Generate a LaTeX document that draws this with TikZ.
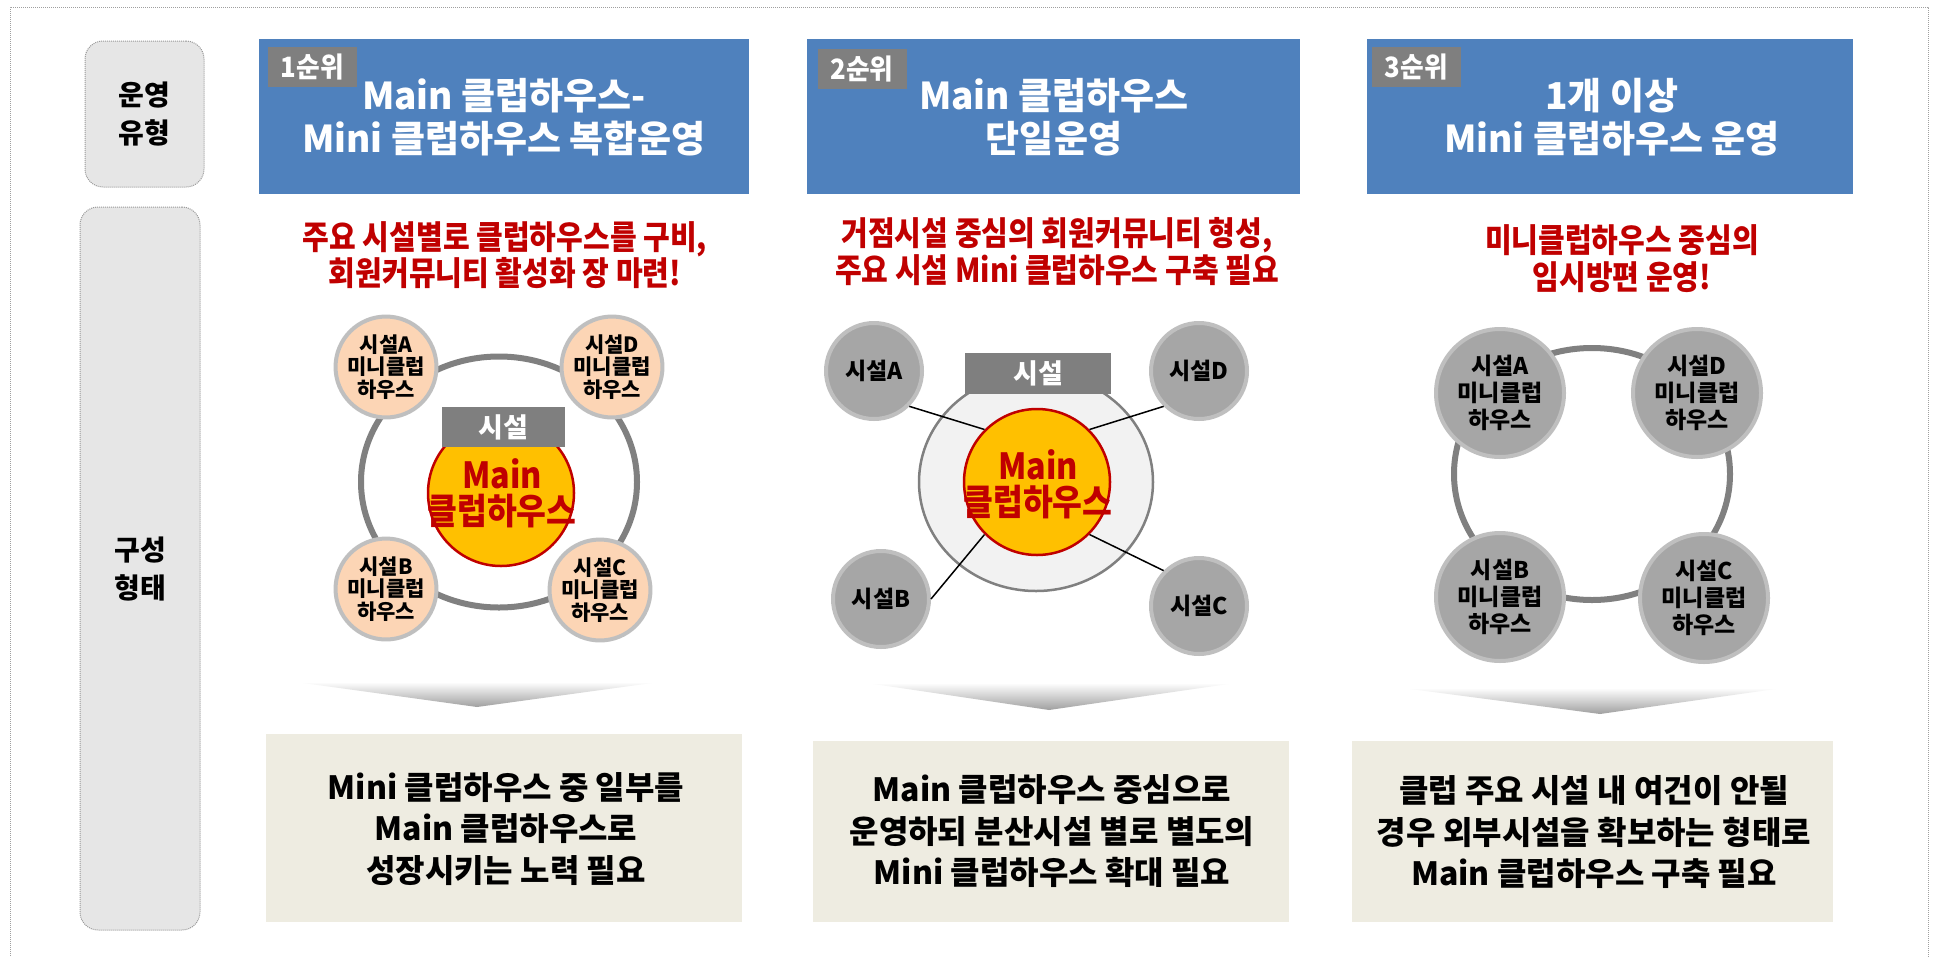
\documentclass[tikz,border=0pt]{standalone}
\usepackage{fontspec}
\setmainfont{Noto Sans CJK KR}
\newfontfamily\krc{Noto Sans CJK KR}[FakeStretch=0.88]
\newfontfamily\krd{Noto Sans CJK KR}[FakeStretch=0.9]
\newfontfamily\krm{Noto Sans CJK KR}[FakeStretch=0.92]
\usetikzlibrary{shapes.geometric}
\definecolor{hblue}{HTML}{4F81BD}
\definecolor{bgray}{HTML}{7F7F7F}
\definecolor{dred}{HTML}{C00000}
\definecolor{ringgray}{HTML}{808080}
\definecolor{peach}{HTML}{FCD5B5}
\definecolor{cborder}{HTML}{BFBFBF}
\definecolor{cgray}{HTML}{A6A6A6}
\definecolor{lgray}{HTML}{F2F2F2}
\definecolor{gold}{HTML}{FFC000}
\definecolor{beige}{HTML}{EEECE1}
\definecolor{lblfill}{HTML}{E6E6E6}
\begin{document}
\begin{tikzpicture}[x=1pt,y=-1pt,
  frameline/.style={draw=gray!75, densely dotted, line width=1pt},
  labelbox/.style={draw=gray!80, densely dotted, fill=lblfill, rounded corners=18pt, line width=1pt, inner sep=0pt},
  labeltext/.style={font=\fontsize{28}{38}\selectfont\bfseries, align=center, inner sep=0pt},
  header/.style={fill=hblue, inner sep=0pt, minimum width=490, minimum height=155},
  badge/.style={fill=bgray, text=white, inner sep=0pt, minimum width=89, minimum height=40, font=\krm\fontsize{28}{30}\selectfont\bfseries},
  htitle/.style={text=white, font=\fontsize{37}{43}\selectfont\bfseries, align=center, inner sep=0pt},
  redtext/.style={text=dred, font=\krc\fontsize{33}{36.5}\selectfont\bfseries, align=center, inner sep=0pt},
  ring/.style={ellipse, draw=ringgray, line width=6pt, inner sep=0pt},
  peachc/.style={circle, fill=peach, draw=cborder, line width=4pt, minimum size=96, inner sep=0pt, font=\fontsize{21}{22.5}\selectfont\bfseries, align=center},
  grayc/.style={circle, fill=cgray, draw=cborder, line width=4pt, inner sep=0pt, align=center},
  mainc/.style={circle, fill=gold, draw=dred, line width=2.5pt, minimum size=146, inner sep=0pt},
  facbox/.style={fill=bgray, text=white, inner sep=0pt, font=\fontsize{27}{30}\selectfont\bfseries},
  maintext/.style={text=dred, font=\krd\fontsize{36}{36}\selectfont\bfseries, align=center, inner sep=0pt},
  chev/.style={top color=white, bottom color=gray!75, draw=none},
  botbox/.style={fill=beige, inner sep=0pt},
  bottext/.style={font=\fontsize{32}{41.5}\selectfont\bfseries, align=center, inner sep=0pt},
  link/.style={draw=black, line width=1.5pt}
]
\useasboundingbox (0,0) rectangle (1936,956);
\fill[white] (0,0) rectangle (1936,956);
% outer frame
\coordinate (f1) at (10,958);
\coordinate (f2) at (10,7);
\coordinate (f3) at (1928,7);
\coordinate (f4) at (1928,958);
\draw[frameline] (f1) -- (f2) -- (f3) -- (f4);

% left labels
\node[labelbox, minimum width=119, minimum height=146] (lb1) at (144.5,114) {};
\node[labeltext] (lt1) at (144.5,114) {운영\\유형};
\node[labelbox, minimum width=120, minimum height=723] (lb2) at (140,568.5) {};
\node[labeltext] (lt2) at (140,569) {구성\\형태};

% headers
\node[header] (h1) at (504,116.5) {};
\node[header, minimum width=493] (h2) at (1053.5,116.5) {};
\node[header, minimum width=486] (h3) at (1610,116.5) {};
\node[badge] (b1) at (312.5,67) {1순위};
\node[badge] (b2) at (862,69) {2순위};
\node[badge] (b3) at (1416.5,66.5) {3순위};
\node[htitle] (t1) at (504,117) {Main 클럽하우스-\\Mini 클럽하우스 복합운영};
\node[htitle] (t2) at (1054,117) {Main 클럽하우스\\단일운영};
\node[htitle] (t3) at (1612,117) {1개 이상\\Mini 클럽하우스 운영};

% red subtitles
\node[redtext] (r1) at (505,255) {주요 시설별로 클럽하우스를 구비,\\회원커뮤니티 활성화 장 마련!};
\node[redtext] (r2) at (1057,251.5) {거점시설 중심의 회원커뮤니티 형성,\\주요 시설 Mini 클럽하우스 구축 필요};
\node[redtext] (r3) at (1622,258.5) {미니클럽하우스 중심의\\임시방편 운영!};

% column 1 diagram
\node[ring, minimum width=276, minimum height=251] (ring1) at (499,482) {};
\node[mainc] (m1) at (501,493) {};
\node[facbox, minimum width=123, minimum height=40] (s1) at (503.5,427) {시설};
\node[maintext] (mt1) at (502,493) {Main\\클럽하우스};
\node[peachc] (a1) at (386,367) {시설A\\미니클럽\\하우스};
\node[peachc] (d1) at (612,367) {시설D\\미니클럽\\하우스};
\node[peachc] (bb1) at (386,589) {시설B\\미니클럽\\하우스};
\node[peachc] (c1) at (600,590) {시설C\\미니클럽\\하우스};

% column 2 diagram
\node[ellipse, fill=lgray, draw=ringgray, line width=2.5pt, minimum width=234, minimum height=218, inner sep=0pt] (e2) at (1036,482) {};
\node[mainc] (m2) at (1037,482) {};
\node[facbox, minimum width=146, minimum height=41] (s2) at (1038,373.5) {시설};
\node[maintext] (mt2) at (1038,484) {Main\\클럽하우스};
\node[grayc, minimum size=96, font=\fontsize{23}{24}\selectfont\bfseries] (a2) at (874,371) {시설A};
\node[grayc, minimum size=96, font=\fontsize{23}{24}\selectfont\bfseries] (d2) at (1199,371) {시설D};
\node[grayc, minimum size=96, font=\fontsize{23}{24}\selectfont\bfseries] (bb2) at (881,599) {시설B};
\node[grayc, minimum size=96, font=\fontsize{23}{24}\selectfont\bfseries] (c2) at (1199,606) {시설C};
\draw[link] (a2.-45) -- (m2.135);
\draw[link] (d2.-135) -- (m2.45);
\draw[link] (bb2.east) -- (m2.-135);
\draw[link] (c2.135) -- (m2.-45);

% column 3 diagram
\node[ring, minimum width=276, minimum height=252] (ring3) at (1592,474) {};
\node[grayc, minimum size=128, font=\fontsize{23}{27}\selectfont\bfseries] (a3) at (1500,393) {시설A\\미니클럽\\하우스};
\node[grayc, minimum size=128, font=\fontsize{23}{27}\selectfont\bfseries] (d3) at (1697,393) {시설D\\미니클럽\\하우스};
\node[grayc, minimum size=128, font=\fontsize{23}{27}\selectfont\bfseries] (bb3) at (1500,597) {시설B\\미니클럽\\하우스};
\node[grayc, minimum size=128, font=\fontsize{23}{27}\selectfont\bfseries] (c3) at (1704,598) {시설C\\미니클럽\\하우스};

% chevrons
\shade[chev] (296,682) -- (659,682) -- (477,707) -- cycle;
\shade[chev] (867,683) -- (1235,683) -- (1049,710) -- cycle;
\shade[chev] (1403,688) -- (1782,688) -- (1600,714) -- cycle;

% bottom boxes
\node[botbox, minimum width=476, minimum height=188] (x1) at (504,828) {};
\node[botbox, minimum width=476, minimum height=181] (x2) at (1051,831.5) {};
\node[botbox, minimum width=481, minimum height=181] (x3) at (1592.5,831.5) {};
\node[bottext] (y1) at (506,829) {Mini 클럽하우스 중 일부를\\Main 클럽하우스로\\성장시키는 노력 필요};
\node[bottext] (y2) at (1052,831.5) {Main 클럽하우스 중심으로\\운영하되 분산시설 별로 별도의\\Mini 클럽하우스 확대 필요};
\node[bottext] (y3) at (1594,832.5) {클럽 주요 시설 내 여건이 안될\\경우 외부시설을 확보하는 형태로\\Main 클럽하우스 구축 필요};
\end{tikzpicture}
\end{document}
